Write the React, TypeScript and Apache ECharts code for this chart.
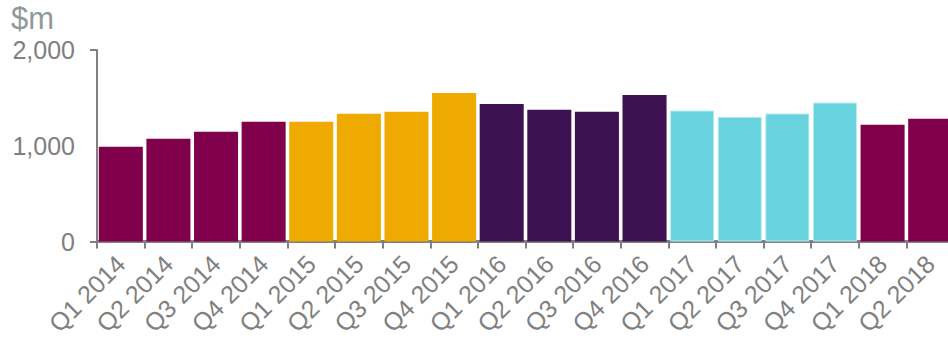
import React, { useEffect, useRef } from "react";
import * as echarts from "echarts";

const categories = [
  "Q1 2014", "Q2 2014", "Q3 2014", "Q4 2014",
  "Q1 2015", "Q2 2015", "Q3 2015", "Q4 2015",
  "Q1 2016", "Q2 2016", "Q3 2016", "Q4 2016",
  "Q1 2017", "Q2 2017", "Q3 2017", "Q4 2017",
  "Q1 2018", "Q2 2018",
];
const values = [
  990, 1073, 1146, 1250,
  1250, 1333, 1354, 1552,
  1437, 1375, 1354, 1531,
  1368, 1302, 1337, 1451,
  1219, 1281,
];
const yTicks = [0, 1000, 2000];

const yearColors: Record<string, string> = {
  "2014": "#80004C",
  "2015": "#EEAA00",
  "2016": "#3D1152",
  "2017": "#68D2DF",
  "2018": "#80004C",
};

const FONT = "'Liberation Sans', Arial, sans-serif";
const GREY = "#808080";

export default function App() {
  const ref = useRef<HTMLDivElement>(null);
  useEffect(() => {
    if (!ref.current) return;
    const chart = echarts.init(ref.current, null, { renderer: "svg" });
    chart.setOption({
      animation: false,
      grid: {
        left: 97,
        width: 857,
        top: 50,
        height: 191.5,
        containLabel: false,
        outerBoundsMode: "none",
      },
      graphic: [
        {
          type: "text",
          left: 11,
          top: 3,
          style: { text: "$m", fontSize: 31, fontFamily: FONT, fill: "#8E9A9A" },
        },
      ],
      xAxis: {
        type: "category",
        data: categories,
        boundaryGap: true,
        axisLine: { show: true, lineStyle: { color: GREY, width: 3 } },
        axisTick: { show: true, length: 7, lineStyle: { color: GREY, width: 2 } },
        axisLabel: {
          rotate: 45,
          margin: 18,
          fontSize: 25,
          fontFamily: FONT,
          color: GREY,
          interval: 0,
        },
        splitLine: { show: false },
      },
      yAxis: {
        type: "value",
        min: 0,
        max: 2000,
        interval: 1000,
        axisLine: { show: true, lineStyle: { color: GREY, width: 2 } },
        axisTick: { show: true, length: 7, lineStyle: { color: GREY, width: 2 }, customValues: [yTicks[0], yTicks[2]] },
        axisLabel: {
          margin: 22,
          fontSize: 25,
          fontFamily: FONT,
          color: GREY,
          formatter: (v: number) => v.toLocaleString("en-US"),
        },
        splitLine: { show: false },
      },
      series: [
        {
          type: "bar",
          barCategoryGap: "7.5%",
          data: values.map((v, i) => {
            const year = categories[i].split(" ")[1];
            const isCyan = year === "2017";
            return {
              value: v,
              itemStyle: {
                color: yearColors[year],
                borderColor: isCyan ? "#B8ECF2" : undefined,
                borderWidth: isCyan ? 1 : 0,
              },
            };
          }),
        },
      ],
    });
    return () => chart.dispose();
  }, []);
  return (
    <div
      ref={ref}
      style={{ position: "fixed", left: 0, top: 0, width: 948, height: 340, background: "#fff" }}
    />
  );
}
